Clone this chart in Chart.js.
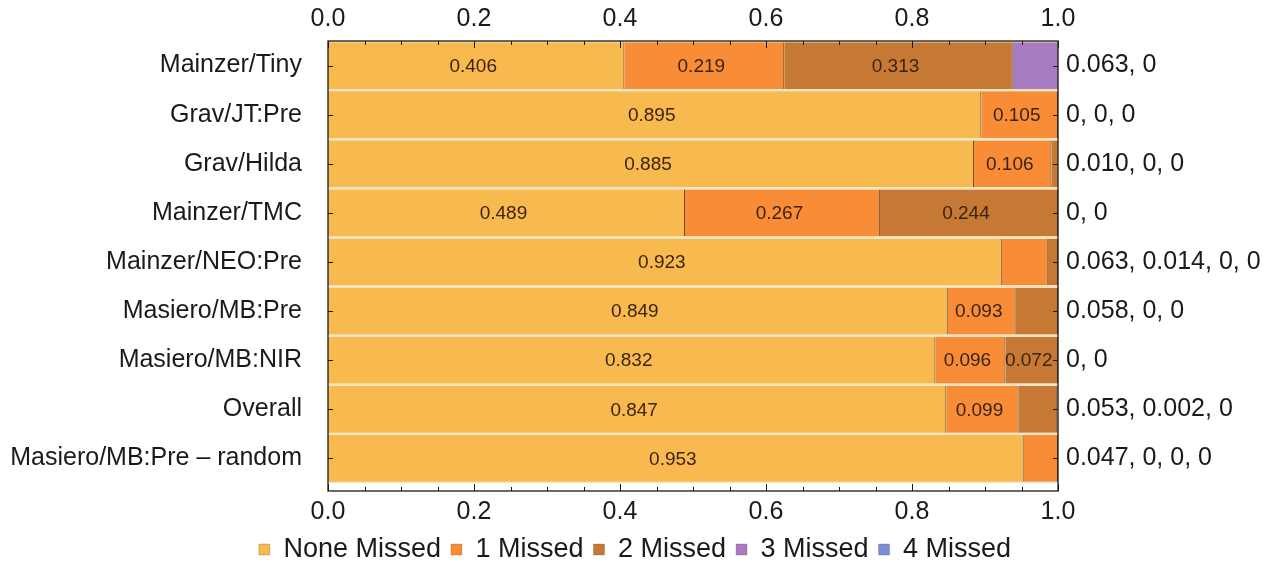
<!DOCTYPE html>
<html>
<head>
<meta charset="utf-8">
<script src="https://cdn.jsdelivr.net/npm/chart.js@4.4.0/dist/chart.umd.min.js"></script>
<style>
  html, body { margin: 0; padding: 0; background: #fff; }
  #wrap { width: 1270px; height: 567px; }
</style>
</head>
<body>
<div id="wrap"><canvas id="myChart"></canvas></div>
<script>
// data
const categories = ['Mainzer/Tiny', 'Grav/JT:Pre', 'Grav/Hilda', 'Mainzer/TMC', 'Mainzer/NEO:Pre',
  'Masiero/MB:Pre', 'Masiero/MB:NIR', 'Overall', 'Masiero/MB:Pre \u2013 random'];
const seriesNames = ['None Missed', '1 Missed', '2 Missed', '3 Missed', '4 Missed'];
const noneMissed  = [0.406, 0.895, 0.885, 0.489, 0.923, 0.849, 0.832, 0.847, 0.953];
const oneMissed   = [0.219, 0.105, 0.106, 0.267, 0.063, 0.093, 0.096, 0.099, 0.047];
const twoMissed   = [0.313, 0, 0.010, 0.244, 0.014, 0.058, 0.072, 0.053, 0];
const threeMissed = [0.063, 0, 0, 0, 0, 0, 0, 0.002, 0];
const fourMissed  = [0, 0, 0, 0, 0, 0, 0, 0, 0];
const xTicks = [0, 0.2, 0.4, 0.6, 0.8, 1.0];

const colors = ['#f8b94f', '#f88c37', '#c67835', '#a67bbf', '#7b8ede'];
const FONT = 'Liberation Sans, Arial, sans-serif';
const labelMin = 0.07; // smaller pieces go to the right hand list

const allSeries = [noneMissed, oneMissed, twoMissed, threeMissed, fourMissed];

// the right hand labels: values too small to be written inside the bar
const fmt = v => v === 0 ? '0' : v.toFixed(3);
const sideLabels = categories.map((c, i) =>
  allSeries.map(s => s[i]).filter(v => v < labelMin).map(fmt).join(', '));

const AREA_LEFT = 328, AREA_RIGHT = 1058, AREA_TOP = 40;

// frame, inward ticks and background
const framePlugin = {
  id: 'frame',
  beforeDatasetsDraw(chart) {
    const a = chart.chartArea, ctx = chart.ctx;
    ctx.save();
    ctx.fillStyle = '#efe5c2';
    ctx.fillRect(a.left, a.top, a.right - a.left, a.bottom - a.top);
    ctx.restore();
  },
  afterDatasetsDraw(chart) {
    const a = chart.chartArea, ctx = chart.ctx;
    const fb = a.bottom + 8;
    const xs = chart.scales.x, ys = chart.scales.y;
    ctx.save();
    ctx.strokeStyle = '#1a1a1a';
    ctx.lineWidth = 1.3;
    ctx.strokeRect(a.left, a.top, a.right - a.left, fb - a.top);
    ctx.lineWidth = 1;
    ctx.beginPath();
    for (let k = 0; k <= 20; k++) {
      const px = Math.round(xs.getPixelForValue(k * 0.05)) + 0.5;
      const len = k % 4 === 0 ? 7 : 4;
      ctx.moveTo(px, a.top); ctx.lineTo(px, a.top + len);
      ctx.moveTo(px, fb); ctx.lineTo(px, fb - len);
    }
    categories.forEach((c, i) => {
      const py = Math.round(ys.getPixelForTick(i)) + 0.5;
      ctx.moveTo(a.left, py); ctx.lineTo(a.left + 5, py);
      ctx.moveTo(a.right, py); ctx.lineTo(a.right - 5, py);
    });
    ctx.stroke();

    // values inside the bars
    ctx.font = '19px ' + FONT;
    ctx.fillStyle = '#3b2410';
    ctx.textAlign = 'center';
    ctx.textBaseline = 'middle';
    chart.data.datasets.forEach((ds, di) => {
      chart.getDatasetMeta(di).data.forEach((bar, j) => {
        const v = ds.data[j];
        if (v >= labelMin) {
          ctx.fillText(v.toFixed(3), (bar.x + bar.base) / 2 - 3, bar.y + 1);
        }
      });
    });
    ctx.restore();
  }
};

const ctx = document.getElementById('myChart');

new Chart(ctx, {
  type: 'bar',
  data: {
    labels: categories,
    datasets: allSeries.map((s, i) => ({
      label: seriesNames[i],
      data: s,
      backgroundColor: colors[i],
      borderColor: '#6b3d18',
      borderWidth: { left: 0, right: 1, top: 0, bottom: 0 },
      borderSkipped: false,
      barPercentage: 0.95,
      categoryPercentage: 1.0
    }))
  },
  options: {
    indexAxis: 'y',
    responsive: true,
    maintainAspectRatio: false,
    animation: false,
    layout: { padding: 0 },
    scales: {
      x: {
        type: 'linear', position: 'bottom', stacked: true, min: 0, max: 1,
        afterBuildTicks: s => { s.ticks = xTicks.map(v => ({ value: v })); },
        afterFit: s => { s.height = 43; },
        ticks: { callback: v => v.toFixed(1), font: { size: 25, family: FONT }, color: '#1a1a1a', padding: 14 },
        grid: { display: false, drawTicks: false },
        border: { display: false }
      },
      x2: {
        type: 'linear', position: 'top', min: 0, max: 1,
        afterBuildTicks: s => { s.ticks = xTicks.map(v => ({ value: v })); },
        afterFit: s => { s.height = AREA_TOP; },
        ticks: { callback: v => v.toFixed(1), font: { size: 25, family: FONT }, color: '#1a1a1a', padding: 7 },
        grid: { display: false, drawTicks: false },
        border: { display: false }
      },
      y: {
        type: 'category', position: 'left', stacked: true, offset: true,
        afterFit: s => { s.width = AREA_LEFT; },
        ticks: { font: { size: 25, family: FONT }, color: '#1a1a1a', padding: 26 },
        grid: { display: false, drawTicks: false },
        border: { display: false }
      },
      y2: {
        type: 'category', position: 'right', offset: true, labels: sideLabels,
        afterFit: s => { s.width = 1270 - AREA_RIGHT; },
        ticks: { font: { size: 25, family: FONT }, color: '#1a1a1a', padding: 8 },
        grid: { display: false, drawTicks: false },
        border: { display: false }
      }
    },
    plugins: {
      tooltip: { enabled: false },
      legend: {
        position: 'bottom',
        maxHeight: 41,
        labels: {
          font: { size: 27, family: FONT },
          color: '#1a1a1a',
          boxWidth: 11,
          boxHeight: 11,
          padding: 10
        }
      }
    }
  },
  plugins: [framePlugin]
});
</script>
</body>
</html>
